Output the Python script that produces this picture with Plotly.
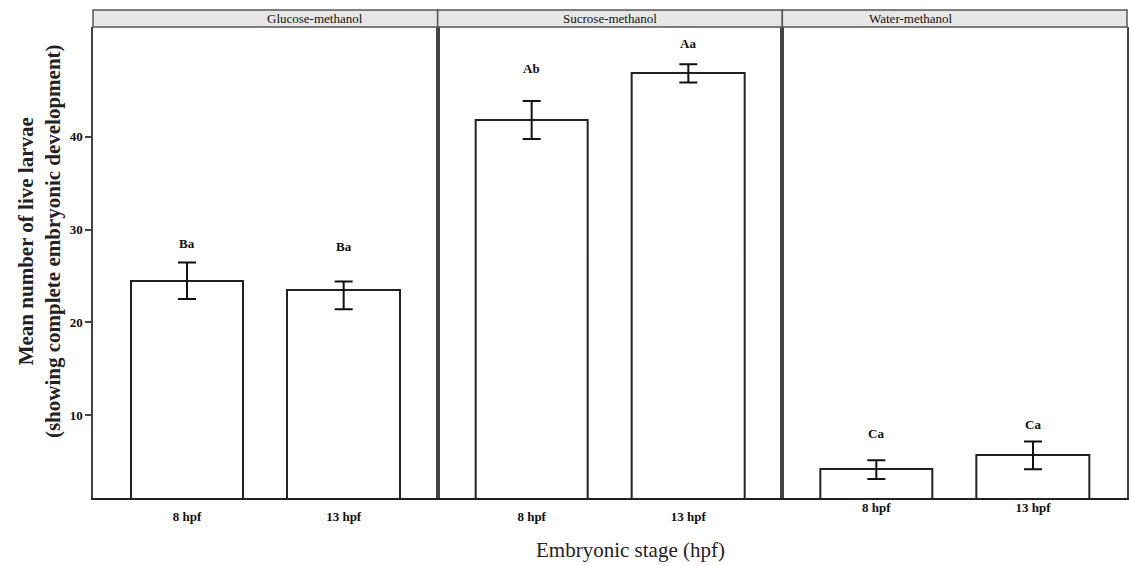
import plotly.graph_objects as go
from plotly.subplots import make_subplots

# ---- data ----
groups = ["Glucose-methanol", "Sucrose-methanol", "Water-methanol"]
stages = ["8 hpf", "13 hpf"]
glucose_mean = [24.4, 23.45]
glucose_err_plus = [2.05, 0.95]
glucose_err_minus = [1.9, 2.05]
sucrose_mean = [41.8, 46.85]
sucrose_err_plus = [2.05, 0.97]
sucrose_err_minus = [2.05, 1.0]
water_mean = [4.15, 5.65]
water_err_plus = [0.97, 1.5]
water_err_minus = [1.05, 1.5]
glucose_letters = ["Ba", "Ba"]
sucrose_letters = ["Ab", "Aa"]
water_letters = ["Ca", "Ca"]
glucose_letter_y = [28.45, 28.15]
sucrose_letter_y = [47.4, 50.1]
water_letter_y = [8.0, 9.0]
y_ticks = [10, 20, 30, 40]

means = [glucose_mean, sucrose_mean, water_mean]
plus = [glucose_err_plus, sucrose_err_plus, water_err_plus]
minus = [glucose_err_minus, sucrose_err_minus, water_err_minus]
letters = [glucose_letters, sucrose_letters, water_letters]
letter_y = [glucose_letter_y, sucrose_letter_y, water_letter_y]

SERIF = "Liberation Serif"
W, H = 1129, 566
ML, MR, MT, MB = 93, 0, 27, 68
PW = W - ML - MR
PH = H - MT - MB

fig = make_subplots(rows=1, cols=3, shared_yaxes=True, horizontal_spacing=0)
xpos = [1, 2]
for i in range(3):
    fig.add_trace(go.Bar(
        x=xpos, y=means[i], width=0.72,
        marker=dict(color="white", line=dict(color="#222", width=2)),
        error_y=dict(type="data", symmetric=False, array=plus[i], arrayminus=minus[i],
                     color="#111", thickness=2, width=9),
        hoverinfo="skip", showlegend=False), row=1, col=i + 1)
    for j in range(2):
        fig.add_annotation(x=xpos[j], y=letter_y[i][j], xref=f"x{'' if i == 0 else i + 1}",
                           yref=f"y{'' if i == 0 else i + 1}", text=f"<b>{letters[i][j]}</b>",
                           showarrow=False, font=dict(family=SERIF, size=13, color="#111"))

yr = [1.06, 51.83]
for i in range(3):
    fig.update_xaxes(row=1, col=i + 1, range=[0.4, 2.6], tickvals=xpos,
                     ticktext=[f"<b>{s}</b>" for s in stages],
                     tickfont=dict(family=SERIF, size=13, color="#111"),
                     ticks="", showgrid=False, zeroline=False,
                     showline=True, linecolor="#222", linewidth=2,
                     ticklabelstandoff=(-4 if i == 2 else 5),
                     domain=[i / 3, (i + 1) / 3])
    fig.update_yaxes(row=1, col=i + 1, range=yr, showgrid=False, zeroline=False,
                     showline=True, mirror=True, linecolor="#444", linewidth=1.5,
                     tickvals=y_ticks, ticktext=[f"<b>{t}</b>" for t in y_ticks],
                     ticks=("outside" if i == 0 else ""), ticklen=6, tickwidth=1.5,
                     tickcolor="#444", showticklabels=(i == 0),
                     tickfont=dict(family=SERIF, size=13, color="#111"))

# strip headers
strip_h = 17 / PH
for i, g in enumerate(groups):
    fig.add_shape(type="rect", xref="paper", yref="paper", x0=i / 3, x1=(i + 1) / 3,
                  y0=1, y1=1 + strip_h, fillcolor="#e6e6e6",
                  line=dict(color="#555", width=1.5), layer="above")
    fig.add_annotation(xref="paper", yref="paper", x=(i + 0.5) / 3, y=1 + strip_h / 2,
                       text=g, showarrow=False, yanchor="middle",
                       font=dict(family=SERIF, size=13, color="#111"))

# axis titles
fig.add_annotation(xref="paper", yref="paper", x=(632 - ML) / PW, y=(H - MB - 550) / PH,
                   text="Embryonic stage (hpf)", showarrow=False, yanchor="middle",
                   font=dict(family=SERIF, size=21, color="#222"))
fig.add_annotation(xref="paper", yref="paper", x=(39 - ML) / PW, y=(H - MB - 241) / PH,
                   text="<b>Mean number of live larvae<br>(showing complete embryonic development)</b>",
                   showarrow=False, textangle=-90, xanchor="center", yanchor="middle",
                   font=dict(family=SERIF, size=21, color="#222"))

fig.update_layout(width=W, height=H, margin=dict(l=ML, r=MR, t=MT, b=MB),
                  plot_bgcolor="white", paper_bgcolor="white", bargap=0)
fig.write_html("out.html")
